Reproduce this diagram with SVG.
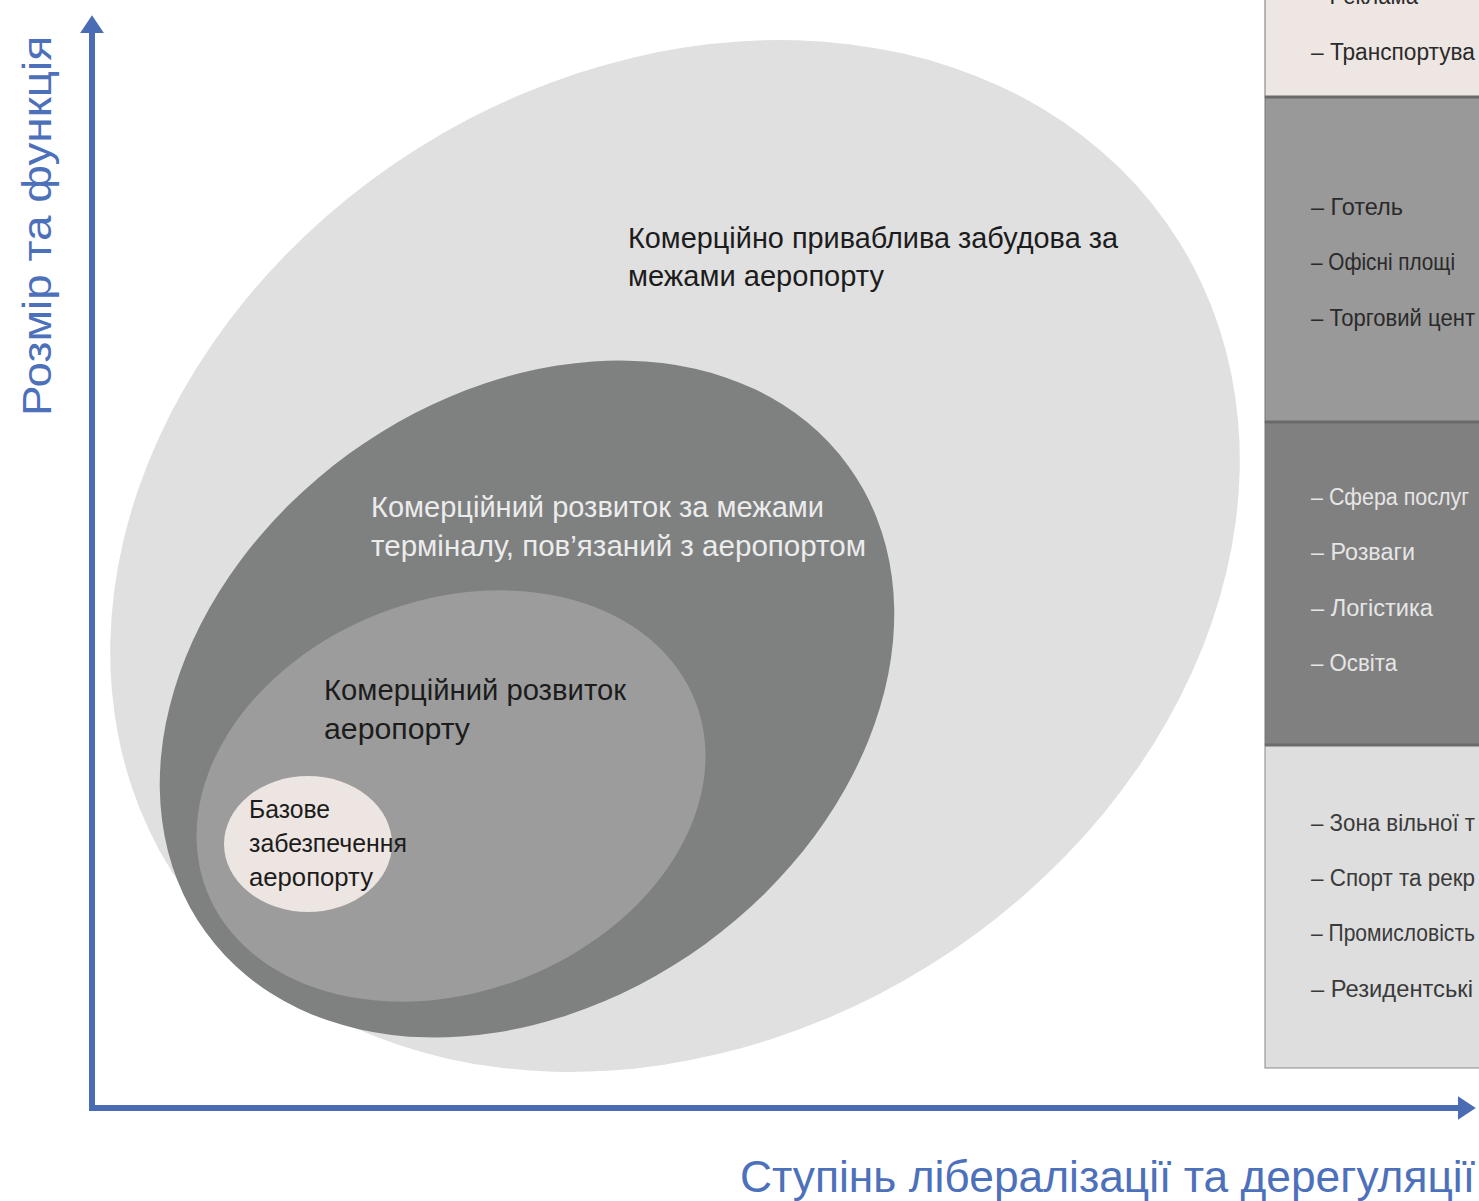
<svg xmlns="http://www.w3.org/2000/svg" width="1479" height="1201" viewBox="0 0 1479 1201">
<style>
text{font-family:"Liberation Sans","DejaVu Sans",sans-serif}
.lbl{font-size:29px;fill:#1c1c1c}
.lblw{font-size:29px;fill:#ececec}
.small{font-size:25px;fill:#1c1c1c}
.tbl{font-size:23px;fill:#2a2a2a}
.tblw{font-size:23px;fill:#e6e6e6}
.tbll{font-size:23px;fill:#3a3a3a}
.axt{fill:#4d70bb}
.sep{stroke:#6a6a6a;stroke-width:3}
</style>
<defs>
<marker id="arr" markerWidth="4" markerHeight="4" refX="2.2" refY="2" orient="auto" markerUnits="strokeWidth">
<path d="M0,0 L3,2 L0,4 Z" fill="#4a6cb5"/>
</marker>
</defs>
<rect width="1479" height="1201" fill="#ffffff"/>

<g id="table">
<rect x="1265" y="-5" width="220" height="102" fill="#ede6e3" stroke="#777" stroke-width="1"/>
<rect x="1265" y="97" width="220" height="325" fill="#999999" stroke="#777" stroke-width="1"/>
<rect x="1265" y="422" width="220" height="323" fill="#808080" stroke="#777" stroke-width="1"/>
<rect x="1265" y="745" width="220" height="323" fill="#dedede" stroke="#888" stroke-width="1"/>
<line class="sep" x1="1265" y1="97" x2="1479" y2="97"/>
<line class="sep" x1="1265" y1="422" x2="1479" y2="422"/>
<line class="sep" x1="1265" y1="745" x2="1479" y2="745"/>
<text class="tbl" x="1311" y="4" textLength="107" lengthAdjust="spacingAndGlyphs">– Реклама</text>
<text class="tbl" x="1311" y="60" textLength="164" lengthAdjust="spacingAndGlyphs">– Транспортува</text>
<text class="tbl" x="1311" y="215" textLength="92" lengthAdjust="spacingAndGlyphs">– Готель</text>
<text class="tbl" x="1311" y="270" textLength="144" lengthAdjust="spacingAndGlyphs">– Офісні площі</text>
<text class="tbl" x="1311" y="326" textLength="164" lengthAdjust="spacingAndGlyphs">– Торговий цент</text>
<text class="tblw" x="1311" y="505" textLength="158" lengthAdjust="spacingAndGlyphs">– Сфера послуг</text>
<text class="tblw" x="1311" y="560" textLength="104" lengthAdjust="spacingAndGlyphs">– Розваги</text>
<text class="tblw" x="1311" y="616" textLength="122" lengthAdjust="spacingAndGlyphs">– Логістика</text>
<text class="tblw" x="1311" y="671" textLength="86" lengthAdjust="spacingAndGlyphs">– Освіта</text>
<text class="tbll" x="1311" y="831" textLength="164" lengthAdjust="spacingAndGlyphs">– Зона вільної т</text>
<text class="tbll" x="1311" y="886" textLength="164" lengthAdjust="spacingAndGlyphs">– Спорт та рекр</text>
<text class="tbll" x="1311" y="941" textLength="164" lengthAdjust="spacingAndGlyphs">– Промисловість</text>
<text class="tbll" x="1311" y="997" textLength="162" lengthAdjust="spacingAndGlyphs">– Резидентські</text>
</g>

<g id="outer">
<ellipse cx="675" cy="556" rx="594" ry="482" transform="rotate(-32 675 556)" fill="#e0e0e0"/>
<text class="lbl" x="628" y="248" textLength="490" lengthAdjust="spacingAndGlyphs">Комерційно приваблива забудова за</text>
<text class="lbl" x="628" y="286" textLength="256" lengthAdjust="spacingAndGlyphs">межами аеропорту</text>
</g>

<g id="terminal">
<ellipse cx="527" cy="699" rx="397" ry="303" transform="rotate(-36 527 699)" fill="#7f8080"/>
<text class="lblw" x="371" y="517" textLength="453" lengthAdjust="spacingAndGlyphs">Комерційний розвиток за межами</text>
<text class="lblw" x="371" y="556" textLength="495" lengthAdjust="spacingAndGlyphs">терміналу, пов’язаний з аеропортом</text>
</g>

<g id="airport">
<ellipse cx="451" cy="796" rx="262" ry="196" transform="rotate(-21 451 796)" fill="#9c9c9c"/>
<text class="lbl" x="324" y="700" textLength="302" lengthAdjust="spacingAndGlyphs">Комерційний розвиток</text>
<text class="lbl" x="324" y="739" textLength="146" lengthAdjust="spacingAndGlyphs">аеропорту</text>
</g>

<g id="basic">
<ellipse cx="308" cy="844" rx="84" ry="68" fill="#ece5e1"/>
<text class="small" x="249" y="818" textLength="81" lengthAdjust="spacingAndGlyphs">Базове</text>
<text class="small" x="249" y="852" textLength="158" lengthAdjust="spacingAndGlyphs">забезпечення</text>
<text class="small" x="249" y="886" textLength="124" lengthAdjust="spacingAndGlyphs">аеропорту</text>
</g>

<g id="connectors">
<line x1="92" y1="1111" x2="92" y2="20" stroke="#4a6cb5" stroke-width="6" marker-end="url(#arr)"/>
<line x1="89" y1="1108" x2="1471" y2="1108" stroke="#4a6cb5" stroke-width="6" marker-end="url(#arr)"/>
</g>

<g id="axis-labels">
<text class="axt" font-size="40" transform="translate(51,416) rotate(-90)" textLength="380" lengthAdjust="spacingAndGlyphs">Розмір та функція</text>
<text class="axt" x="740" y="1192" font-size="44" textLength="735" lengthAdjust="spacingAndGlyphs">Ступінь лібералізації та дерегуляції</text>
</g>
</svg>
